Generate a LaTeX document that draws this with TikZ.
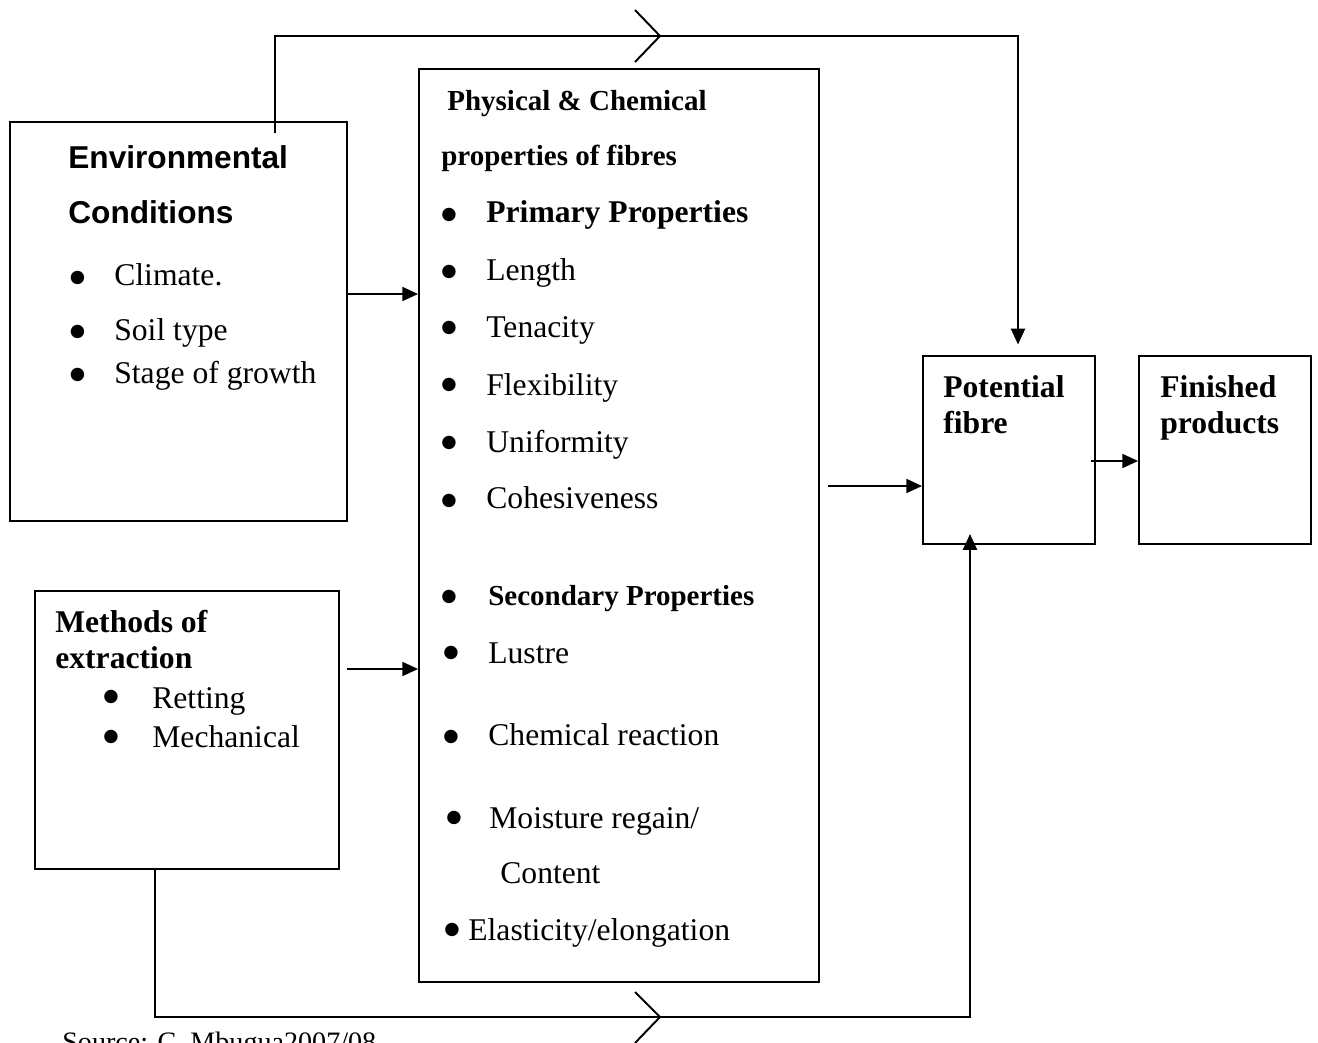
\documentclass[tikz,border=0pt]{standalone}
\usepackage{fontspec}
\setmainfont{Liberation Serif}
\newfontfamily\sansfam{Liberation Sans}
\newfontfamily\dejavu{DejaVu Sans}
\usetikzlibrary{arrows.meta}
\tikzset{
  box/.style={draw, line width=1.1pt, inner sep=0, anchor=center},
  txt/.style={anchor=mid west, inner sep=0, yshift=-3.7pt, font=\fontsize{18}{21}\selectfont},
  hd/.style={txt, font=\fontsize{18}{21}\selectfont\bfseries},
  hds/.style={txt, font=\fontsize{16.5}{20}\selectfont\bfseries},
  envhd/.style={txt, font=\fontsize{18}{21}\selectfont\sansfam\bfseries},
  bul/.style={anchor=center, inner sep=0, font=\fontsize{10}{12}\selectfont\dejavu},
  conn/.style={line width=1.1pt},
  arr/.style={line width=1.1pt, -{Triangle[length=9pt,width=8pt]}},
  chev/.style={line width=1.1pt, line join=miter}
}
\begin{document}
\begin{tikzpicture}[x=0.02cm, y=-0.02cm]
\useasboundingbox (0,0) rectangle (1318,1043);
% boxes
\node[box, minimum width=6.74cm, minimum height=7.98cm] (env) at (178.5,321.5) {};
\node[box, minimum width=6.08cm, minimum height=5.56cm] (meth) at (187,730) {};
\node[box, minimum width=8.0cm, minimum height=18.26cm] (phys) at (619,525.5) {};
\node[box, minimum width=3.44cm, minimum height=3.76cm] (pot) at (1009,450) {};
\node[box, minimum width=3.44cm, minimum height=3.76cm] (fin) at (1225,450) {};

% environmental conditions
\node[envhd] (e1) at (68,158) {Environmental};
\node[envhd] (e2) at (68,213) {Conditions};
\node[bul] (eb1) at (77.5,278) {●};
\node[txt] (e3) at (114,275) {Climate.};
\node[bul] (eb2) at (77.5,332) {●};
\node[txt] (e4) at (114,330) {Soil type};
\node[bul] (eb3) at (77.5,375) {●};
\node[txt] (e5) at (114,373) {Stage of growth};

% methods
\node[hd] (m1) at (55,622) {Methods of};
\node[hd] (m2) at (55,658) {extraction};
\node[bul] (mb1) at (111,697) {●};
\node[txt] (m3) at (152,698) {Retting};
\node[bul] (mb2) at (111,737) {●};
\node[txt] (m4) at (152,737) {Mechanical};

% physical & chemical
\node[hds] (p1) at (447,100) {Physical \& Chemical};
\node[hds] (p2) at (441,155) {properties of fibres};
\node[bul] (pb1) at (449,215) {●};
\node[hd] (p3) at (486,212) {Primary Properties};
\node[bul] (pb2) at (449,272) {●};
\node[txt] (p4) at (486,270) {Length};
\node[bul] (pb3) at (449,328) {●};
\node[txt] (p5) at (486,327) {Tenacity};
\node[bul] (pb4) at (449,385) {●};
\node[txt] (p6) at (486,385) {Flexibility};
\node[bul] (pb5) at (449,443) {●};
\node[txt] (p7) at (486,442) {Uniformity};
\node[bul] (pb6) at (449,501) {●};
\node[txt] (p8) at (486,498) {Cohesiveness};
\node[bul] (pb7) at (449,597) {●};
\node[hds] (p9) at (488,595) {Secondary Properties};
\node[bul] (pb8) at (451,653) {●};
\node[txt] (p10) at (488,653) {Lustre};
\node[bul] (pb9) at (451,737) {●};
\node[txt] (p11) at (488,735) {Chemical reaction};
\node[bul] (pb10) at (454,818) {●};
\node[txt] (p12) at (489,818) {Moisture regain/};
\node[txt] (p13) at (500,873) {Content};
\node[bul] (pb11) at (452,930) {●};
\node[txt] (p14) at (468,930) {Elasticity/elongation};

% potential / finished
\node[hd] (f1) at (943,387) {Potential};
\node[hd] (f2) at (943,423) {fibre};
\node[hd] (g1) at (1160,387) {Finished};
\node[hd] (g2) at (1160,423) {products};

% source
\node[anchor=base west, inner sep=0, font=\fontsize{16}{18}\selectfont] (src) at (62,1051) {Source: C. Mbugua2007/08};

% arrows between boxes
\draw[arr] (env.east |- 0,294) -- (phys.west |- 0,294);
\draw[arr, shorten <=4pt] (meth.east |- 0,669) -- (phys.west |- 0,669);
\draw[arr, shorten <=4.5pt] (phys.east |- 0,486) -- (pot.west |- 0,486);
\draw[arr, shorten <=-3pt] (pot.east |- 0,461) -- (fin.west |- 0,461);

% top connector
\coordinate (tstart) at (275,133);
\draw[arr, shorten >=6pt] (tstart) -- (275,36) -- (1018,36) -- (pot.north -| 1018,0);
\draw[chev] (635,10) -- (660,36) -- (635,62);

% bottom connector
\draw[arr, shorten >=-6.2pt] (meth.south -| 155,0) -- (155,1017) -- (970,1017) -- (pot.south -| 970,0);
\draw[chev] (635,992) -- (660,1017) -- (635,1043);
\end{tikzpicture}
\end{document}
